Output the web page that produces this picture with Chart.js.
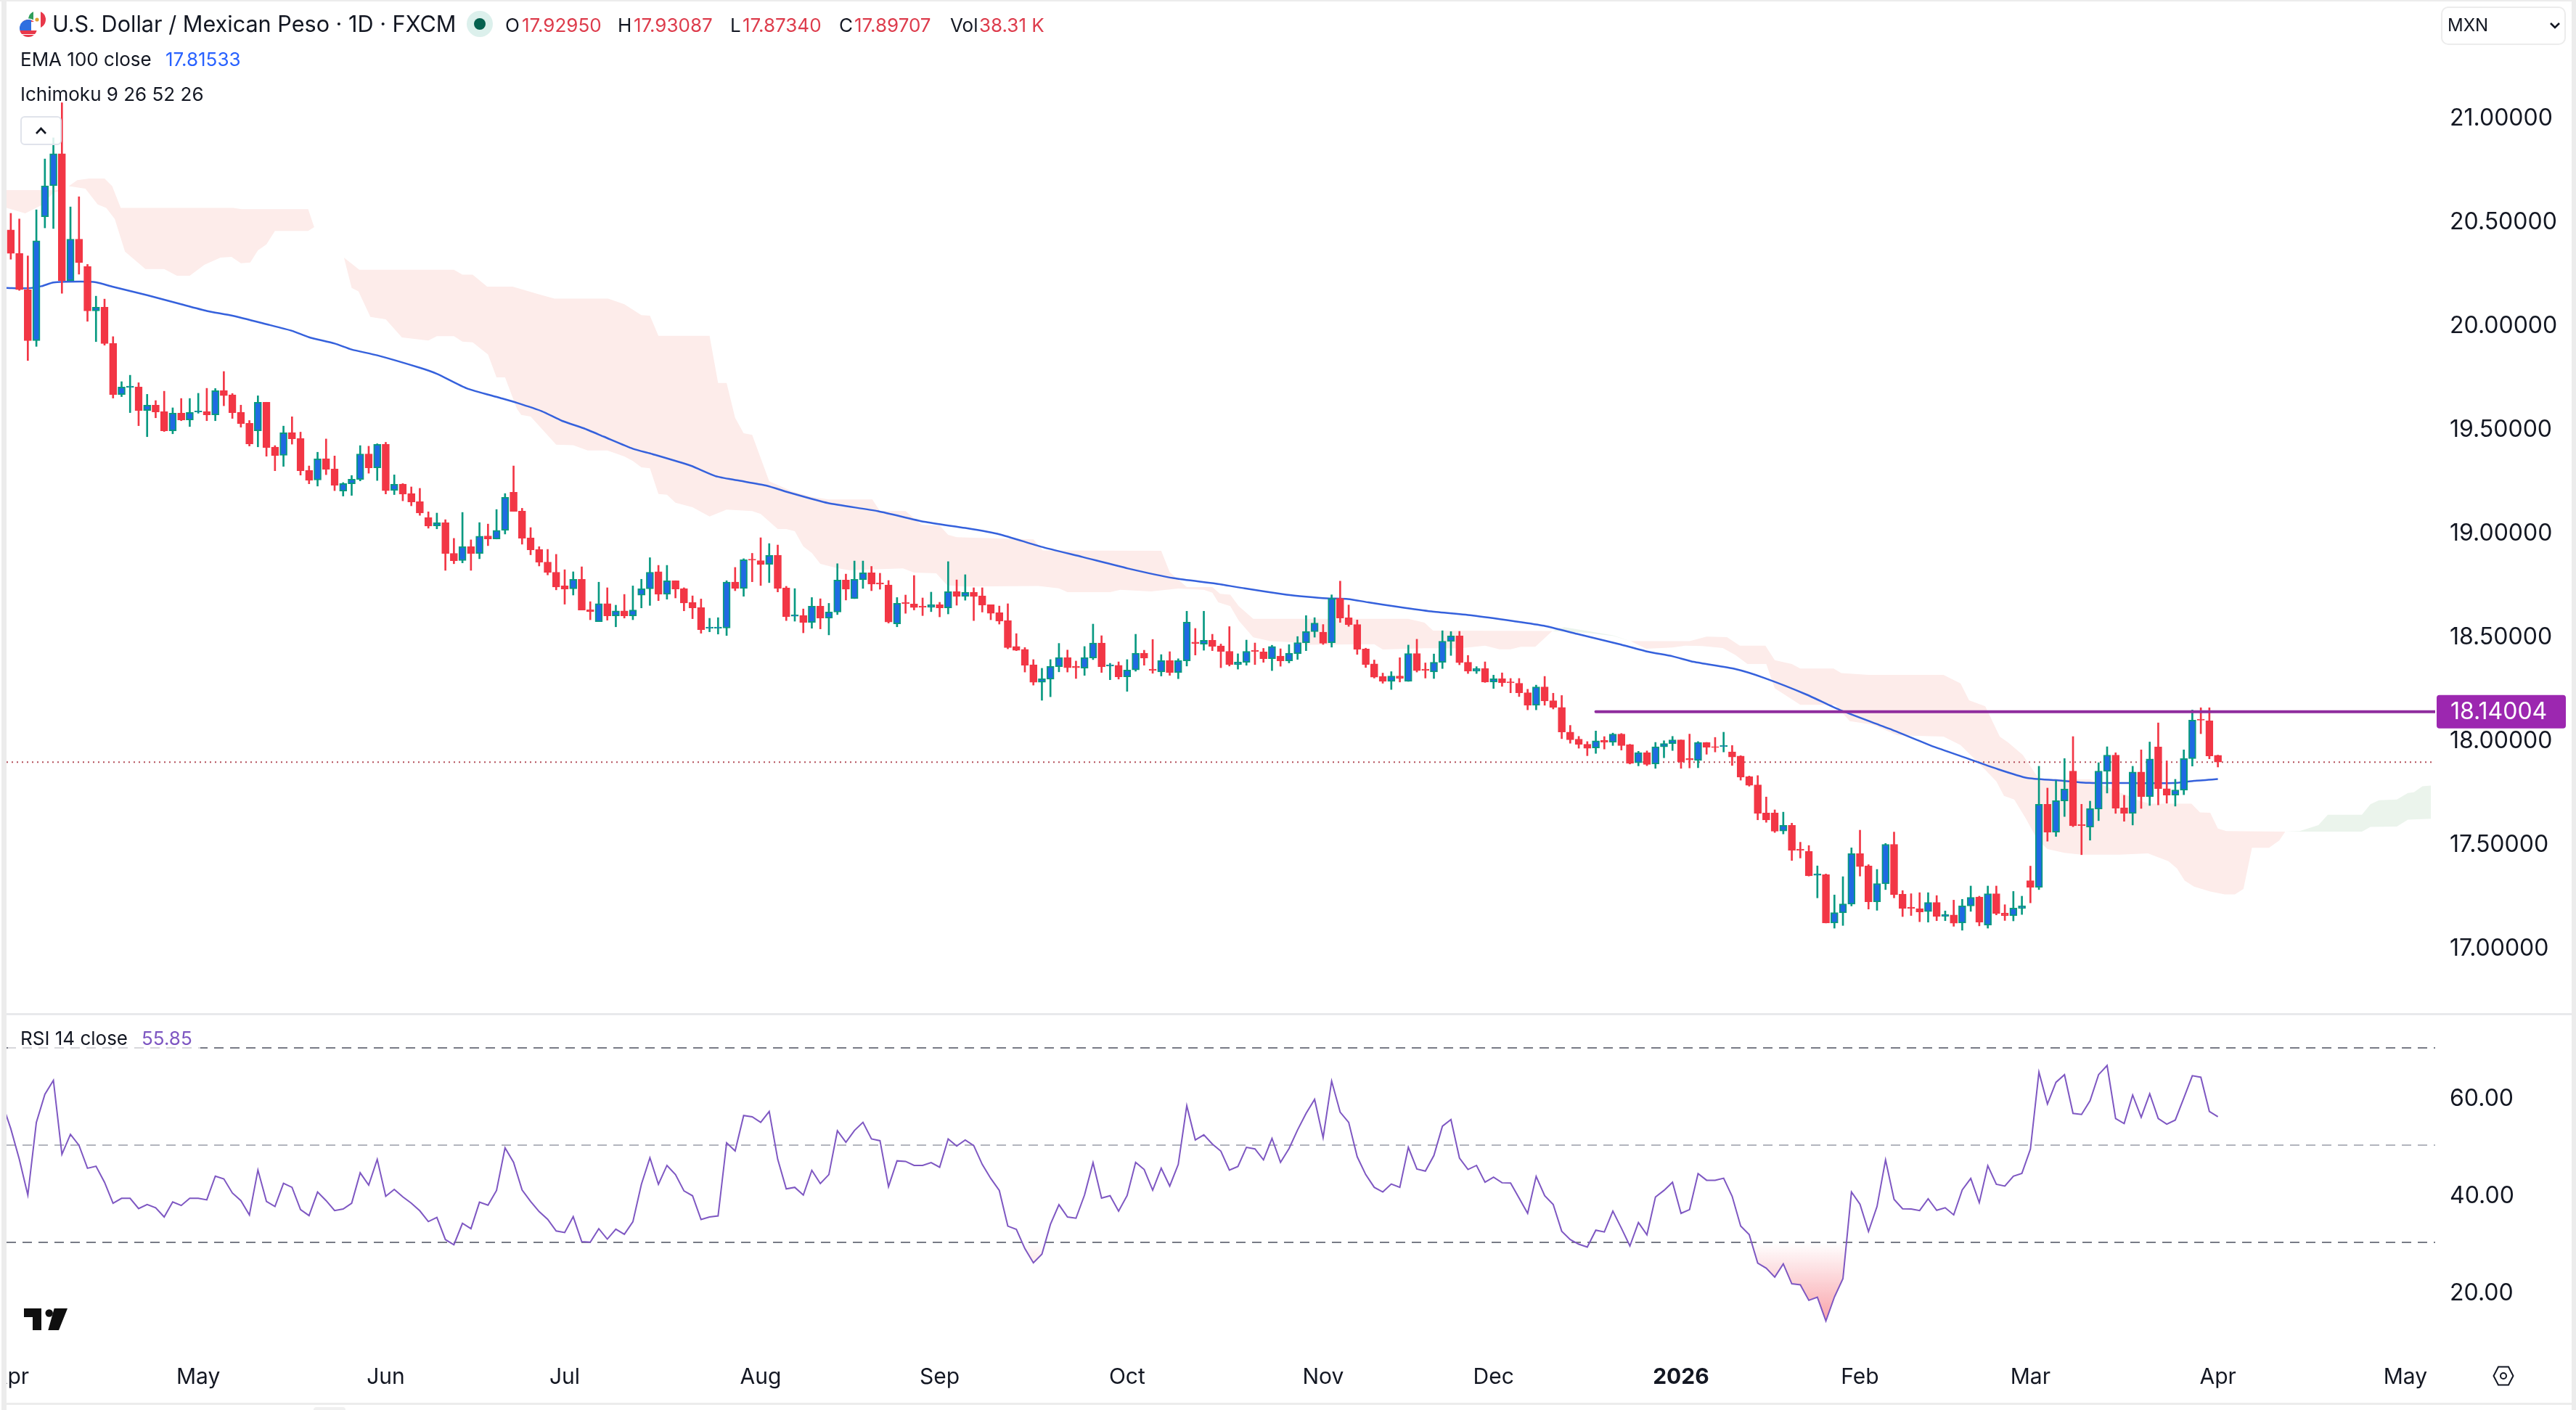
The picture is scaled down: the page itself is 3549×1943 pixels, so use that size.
<!DOCTYPE html>
<html>
<head>
<meta charset="utf-8">
<title>USD/MXN 1D</title>
<script src="https://cdn.jsdelivr.net/npm/chart.js@4"></script>
<style>
  html, body { margin: 0; padding: 0; background: #fff; overflow: hidden; }
  body { width: 3549px; height: 1943px; position: relative; font-family: Inter, sans-serif; color: #131722; }
  canvas { position: absolute; left: 9px; }
  #priceChart { top: 0; }
  #rsiChart { top: 1399px; }
  .strip { position: absolute; background: #ececec; }
  .txt { position: absolute; white-space: nowrap; line-height: 1; font-size: 26px; z-index: 5; }
  .abs { position: absolute; z-index: 5; }
  .red { color: #dd3c4c; }
</style>
</head>
<body>
<canvas id="priceChart" width="3534" height="1396"></canvas>
<canvas id="rsiChart" width="3534" height="534"></canvas>

<!-- window frame -->
<div class="strip" style="left:2px;top:0;width:7px;height:1943px"></div>
<div class="strip" style="left:0;top:0;width:3549px;height:2px"></div>
<div class="strip" style="left:3543px;top:0;width:6px;height:1943px"></div>
<div class="strip" style="left:9px;top:1396px;width:3534px;height:3px;background:#e8e9ec"></div>
<div class="strip" style="left:9px;top:1933px;width:3534px;height:3px"></div>
<div class="strip" style="left:432px;top:1939px;width:44px;height:4px;border-radius:6px 6px 0 0;background:#f0f0f0"></div>

<!-- header legend -->
<svg class="abs" style="left:26px;top:14px" width="40" height="40" viewBox="0 0 40 40">
  <defs>
    <clipPath id="mx"><circle cx="25" cy="13" r="12"/></clipPath>
    <clipPath id="us"><circle cx="13" cy="25" r="12"/></clipPath>
  </defs>
  <g clip-path="url(#mx)">
    <rect x="10" y="0" width="30" height="30" fill="#fff"/>
    <rect x="10" y="0" width="10" height="30" fill="#2e9e5b"/>
    <rect x="30" y="0" width="10" height="30" fill="#e8384a"/>
    <circle cx="25" cy="13" r="2.6" fill="#e0a030"/>
  </g>
  <circle cx="13" cy="25" r="13.5" fill="#fff"/>
  <g clip-path="url(#us)">
    <rect x="0" y="12" width="26" height="26" fill="#fff"/>
    <rect x="0" y="28" width="26" height="5" fill="#e8384a"/>
    <rect x="0" y="12" width="26" height="4" fill="#e8384a"/>
    <rect x="0" y="34" width="26" height="4" fill="#e8384a"/>
    <rect x="0" y="12" width="17" height="16" fill="#2f6fe0"/>
  </g>
</svg>
<span class="txt" style="left:72px;top:18px;font-size:30.6px">U.S. Dollar / Mexican Peso · 1D · FXCM</span>
<svg class="abs" style="left:643px;top:15px" width="36" height="36"><ellipse cx="18" cy="18" rx="18" ry="18" fill="#dcf0ec"/><circle cx="18" cy="18" r="8" fill="#06614f"/></svg>
<span class="txt" style="left:696px;top:22px">O</span><span class="txt red" style="left:719px;top:22px">17.92950</span>
<span class="txt" style="left:851px;top:22px">H</span><span class="txt red" style="left:873px;top:22px">17.93087</span>
<span class="txt" style="left:1006px;top:22px">L</span><span class="txt red" style="left:1023px;top:22px">17.87340</span>
<span class="txt" style="left:1156px;top:22px">C</span><span class="txt red" style="left:1177px;top:22px">17.89707</span>
<span class="txt" style="left:1309px;top:22px">Vol</span><span class="txt red" style="left:1349px;top:22px">38.31 K</span>
<span class="txt" style="left:28px;top:69px">EMA 100 close</span><span class="txt" style="left:228px;top:69px;color:#2962ff">17.81533</span>
<span class="txt" style="left:28px;top:117px">Ichimoku 9 26 52 26</span>
<div class="abs" style="left:28px;top:160px;width:53px;height:36px;border:2px solid #e0e3eb;border-radius:6px;background:rgba(255,255,255,.85)">
  <svg width="53" height="36"><path d="M20 22 L26.5 15 L33 22" fill="none" stroke="#131722" stroke-width="2.6"/></svg>
</div>

<!-- currency box -->
<div class="abs" style="left:3363px;top:9px;width:168px;height:49px;border:2px solid #ececec;border-radius:10px"></div>
<span class="txt" style="left:3372px;top:23px;font-size:24px">MXN</span>
<svg class="abs" style="left:3512px;top:29px" width="16" height="12"><path d="M2 3 L8 9 L14 3" fill="none" stroke="#131722" stroke-width="2.6"/></svg>

<!-- RSI legend -->
<div class="abs" style="left:11px;top:1416px;width:265px;height:32px;background:rgba(255,255,255,.7)"></div>
<span class="txt" style="left:28px;top:1418px;font-size:26px">RSI 14 close</span><span class="txt" style="left:195px;top:1418px;font-size:26px;color:#7e57c2">55.85</span>

<!-- logo and settings -->
<svg class="abs" style="left:33px;top:1803px" width="60" height="30" viewBox="0 0 60 30">
  <path d="M0 0H24V30H12V12H0Z M41.7 0H60L48 30H33.3Z" fill="#0f0f0f"/><circle cx="34.7" cy="6.5" r="5.2" fill="#0f0f0f"/>
</svg>
<svg class="abs" style="left:3434px;top:1881px" width="30" height="30" viewBox="0 0 30 30">
  <path d="M8 2.5H22L28.5 15L22 27.5H8L1.5 15Z" fill="none" stroke="#131722" stroke-width="2"/><circle cx="15" cy="15" r="4" fill="none" stroke="#131722" stroke-width="2"/>
</svg>

<script>
// daily candles, bar 0 is 1 Apr 2025, last bar is 1 Apr 2026
const opens = [
  20.461,20.348,20.173,19.928,20.525,20.674,20.828,20.217,20.417,20.285,
  20.071,20.089,19.914,19.668,19.702,19.704,19.591,19.617,19.586,19.493,
  19.578,19.546,19.584,19.586,19.570,19.687,19.667,19.583,19.529,19.493,
  19.631,19.415,19.375,19.485,19.456,19.302,19.256,19.359,19.309,19.203,
  19.238,19.259,19.382,19.315,19.428,19.207,19.237,19.191,19.152,19.075,
  19.035,19.050,18.903,18.868,18.935,18.902,18.987,18.972,19.014,19.197,
  19.106,18.977,18.921,18.861,18.812,18.746,18.732,18.778,18.631,18.574,
  18.661,18.602,18.626,18.602,18.701,18.732,18.814,18.706,18.771,18.733,
  18.667,18.641,18.542,18.542,18.543,18.765,18.734,18.875,18.868,18.850,
  18.894,18.737,18.600,18.604,18.570,18.648,18.591,18.620,18.774,18.685,
  18.776,18.809,18.760,18.751,18.563,18.666,18.659,18.648,18.643,18.655,
  18.640,18.718,18.695,18.716,18.698,18.655,18.617,18.579,18.454,18.440,
  18.366,18.282,18.297,18.357,18.401,18.359,18.350,18.399,18.471,18.360,
  18.363,18.308,18.341,18.422,18.345,18.332,18.386,18.329,18.385,18.475,
  18.465,18.484,18.457,18.431,18.367,18.378,18.436,18.428,18.395,18.408,
  18.385,18.420,18.472,18.526,18.523,18.472,18.686,18.592,18.560,18.442,
  18.370,18.310,18.286,18.312,18.286,18.420,18.345,18.332,18.378,18.479,
  18.505,18.378,18.335,18.348,18.283,18.299,18.284,18.277,18.231,18.171,
  18.259,18.193,18.161,18.042,18.008,17.983,17.965,18.002,17.993,18.032,
  17.981,17.894,17.943,17.888,17.971,17.986,18.004,17.914,17.905,17.992,
  17.972,17.972,17.946,17.926,17.827,17.787,17.652,17.652,17.565,17.592,
  17.478,17.467,17.352,17.355,17.122,17.171,17.213,17.456,17.397,17.224,
  17.311,17.501,17.261,17.198,17.191,17.177,17.221,17.154,17.161,17.122,
  17.204,17.247,17.111,17.263,17.169,17.157,17.192,17.326,17.294,17.694,
  17.560,17.710,17.854,17.597,17.584,17.671,17.853,17.931,17.676,17.650,
  17.849,17.731,17.970,17.769,17.738,17.762,17.914,18.104,18.096,17.9295
];
const closes = [
  20.348,20.173,19.928,20.409,20.674,20.828,20.217,20.417,20.304,20.071,
  20.089,19.914,19.667,19.704,19.709,19.591,19.617,19.584,19.493,19.578,
  19.546,19.582,19.589,19.570,19.687,19.663,19.581,19.528,19.430,19.631,
  19.413,19.374,19.484,19.455,19.301,19.255,19.358,19.308,19.231,19.239,
  19.260,19.382,19.315,19.428,19.205,19.236,19.188,19.151,19.097,19.034,
  19.050,18.902,18.867,18.935,18.902,18.986,18.972,19.014,19.173,19.105,
  18.976,18.920,18.860,18.811,18.741,18.731,18.778,18.630,18.622,18.661,
  18.602,18.626,18.602,18.630,18.732,18.812,18.706,18.771,18.731,18.664,
  18.640,18.535,18.548,18.548,18.765,18.734,18.872,18.870,18.849,18.893,
  18.734,18.598,18.606,18.570,18.648,18.591,18.620,18.774,18.730,18.778,
  18.809,18.755,18.755,18.572,18.662,18.661,18.642,18.643,18.655,18.640,
  18.718,18.695,18.716,18.695,18.653,18.614,18.576,18.449,18.436,18.364,
  18.282,18.299,18.358,18.401,18.352,18.352,18.401,18.471,18.356,18.366,
  18.308,18.341,18.422,18.398,18.339,18.386,18.329,18.386,18.571,18.469,
  18.484,18.455,18.430,18.367,18.379,18.431,18.430,18.395,18.454,18.385,
  18.422,18.473,18.526,18.567,18.470,18.686,18.591,18.559,18.441,18.367,
  18.306,18.286,18.312,18.300,18.420,18.338,18.339,18.378,18.480,18.505,
  18.376,18.335,18.348,18.283,18.299,18.279,18.279,18.231,18.171,18.259,
  18.192,18.160,18.042,18.005,17.982,17.964,18.000,17.993,18.032,17.977,
  17.891,17.943,17.886,17.971,17.987,18.004,17.897,17.908,17.992,17.969,
  17.967,17.977,17.922,17.825,17.785,17.650,17.618,17.564,17.592,17.472,
  17.472,17.349,17.358,17.122,17.172,17.214,17.456,17.394,17.224,17.312,
  17.501,17.258,17.192,17.192,17.175,17.221,17.153,17.162,17.121,17.204,
  17.245,17.126,17.263,17.167,17.157,17.194,17.204,17.294,17.694,17.560,
  17.711,17.767,17.590,17.591,17.673,17.854,17.931,17.675,17.650,17.849,
  17.731,17.912,17.769,17.738,17.763,17.914,18.099,18.099,17.927,17.89707
];
const highs = [
  20.541,20.514,20.336,20.558,20.803,20.905,21.074,20.572,20.621,20.295,
  20.142,20.128,19.947,19.730,19.761,19.725,19.669,19.639,19.684,19.604,
  19.649,19.649,19.674,19.698,19.697,19.779,19.673,19.617,19.543,19.662,
  19.631,19.422,19.516,19.561,19.487,19.324,19.390,19.454,19.372,19.244,
  19.278,19.422,19.419,19.431,19.438,19.281,19.239,19.223,19.216,19.103,
  19.097,19.065,18.975,19.100,18.968,19.051,19.044,19.114,19.191,19.324,
  19.120,19.027,18.935,18.922,18.898,18.824,18.814,18.838,18.670,18.764,
  18.737,18.653,18.705,18.746,18.778,18.882,18.845,18.845,18.771,18.737,
  18.698,18.683,18.590,18.593,18.771,18.835,18.877,18.903,18.978,18.950,
  18.943,18.744,18.733,18.635,18.690,18.684,18.662,18.853,18.803,18.866,
  18.866,18.840,18.807,18.772,18.690,18.702,18.796,18.688,18.716,18.667,
  18.863,18.775,18.800,18.737,18.737,18.655,18.649,18.660,18.516,18.449,
  18.391,18.349,18.391,18.469,18.437,18.384,18.454,18.562,18.506,18.373,
  18.380,18.391,18.513,18.436,18.488,18.415,18.429,18.395,18.624,18.541,
  18.624,18.513,18.466,18.550,18.419,18.485,18.471,18.445,18.460,18.443,
  18.463,18.502,18.603,18.593,18.560,18.703,18.769,18.654,18.582,18.446,
  18.389,18.326,18.333,18.400,18.461,18.489,18.375,18.418,18.530,18.526,
  18.527,18.411,18.357,18.380,18.316,18.327,18.300,18.300,18.248,18.268,
  18.310,18.229,18.218,18.074,18.021,17.996,18.047,18.020,18.037,18.035,
  17.983,17.949,17.951,17.992,18.000,18.021,18.004,18.032,17.996,17.992,
  18.016,18.041,17.977,17.928,17.830,17.832,17.729,17.667,17.656,17.603,
  17.511,17.495,17.397,17.358,17.257,17.345,17.484,17.569,17.403,17.380,
  17.505,17.560,17.278,17.263,17.268,17.268,17.254,17.180,17.232,17.236,
  17.300,17.251,17.300,17.300,17.210,17.274,17.251,17.396,17.877,17.772,
  17.808,17.914,18.020,17.694,17.709,17.894,17.971,17.942,17.737,17.877,
  17.956,17.994,18.086,17.903,17.814,17.956,18.148,18.159,18.159,17.93087
];
const lows = [
  20.320,20.170,19.832,19.900,20.471,20.468,20.156,20.217,20.248,20.021,
  19.923,19.906,19.651,19.658,19.581,19.518,19.465,19.556,19.490,19.479,
  19.542,19.514,19.578,19.542,19.542,19.614,19.553,19.511,19.420,19.416,
  19.371,19.301,19.322,19.429,19.280,19.238,19.227,19.282,19.205,19.179,
  19.182,19.252,19.289,19.254,19.189,19.186,19.156,19.132,19.086,19.024,
  19.021,18.821,18.853,18.857,18.821,18.877,18.940,18.972,18.996,19.105,
  18.947,18.896,18.842,18.799,18.727,18.658,18.702,18.630,18.583,18.574,
  18.581,18.549,18.591,18.583,18.640,18.652,18.675,18.682,18.688,18.626,
  18.588,18.518,18.525,18.514,18.507,18.723,18.696,18.766,18.748,18.762,
  18.717,18.579,18.576,18.520,18.542,18.539,18.510,18.608,18.678,18.685,
  18.734,18.723,18.730,18.567,18.549,18.614,18.630,18.603,18.622,18.597,
  18.611,18.653,18.677,18.579,18.620,18.583,18.562,18.443,18.434,18.331,
  18.268,18.195,18.212,18.332,18.331,18.300,18.315,18.391,18.329,18.294,
  18.297,18.238,18.335,18.364,18.325,18.312,18.315,18.299,18.360,18.413,
  18.436,18.434,18.352,18.360,18.345,18.364,18.367,18.378,18.338,18.359,
  18.375,18.392,18.434,18.499,18.464,18.451,18.570,18.551,18.416,18.353,
  18.302,18.277,18.247,18.283,18.286,18.331,18.302,18.300,18.348,18.411,
  18.366,18.324,18.324,18.281,18.252,18.262,18.231,18.213,18.149,18.149,
  18.171,18.153,18.010,17.988,17.964,17.928,17.939,17.960,17.977,17.955,
  17.888,17.879,17.880,17.867,17.918,17.953,17.867,17.869,17.870,17.935,
  17.946,17.946,17.881,17.810,17.781,17.619,17.607,17.558,17.551,17.423,
  17.435,17.348,17.243,17.122,17.097,17.110,17.204,17.348,17.189,17.183,
  17.283,17.243,17.153,17.158,17.128,17.126,17.133,17.133,17.106,17.087,
  17.178,17.108,17.097,17.161,17.134,17.132,17.163,17.219,17.283,17.516,
  17.539,17.635,17.586,17.451,17.521,17.615,17.748,17.650,17.612,17.594,
  17.674,17.688,17.691,17.699,17.685,17.740,17.878,18.034,17.913,17.8734
];

// EMA 100, read at these bars
const emaBars = [-0.5,2,3.6,5,8,10,12,16,20,23,26,30,33,35,38,40,43,48,50,53.5,57.4,59.4,62.3,64.7,67.2,69.6,73,75.3,79.8,82.7,85.2,88.6,91.5,95.9,101.8,107.2,112,116,120.9,125.8,131.1,136.5,141.4,144.8,149.7,152,154.4,156.9,159.3,162.8,166.7,171.6,176.4,179.9,183.8,188.7,192.1,195,197.5,202.4,205.8,210.7,214.6,220.5,225.3,228.7,233.2,236.6,240,243.9,248.8,253.7,256.2,259];
const emaValues = [20.182,20.180,20.190,20.208,20.212,20.209,20.187,20.147,20.103,20.071,20.048,20.007,19.975,19.944,19.914,19.885,19.857,19.797,19.768,19.698,19.652,19.628,19.588,19.541,19.506,19.465,19.407,19.381,19.325,19.275,19.255,19.230,19.194,19.145,19.106,19.055,19.025,18.995,18.935,18.885,18.830,18.783,18.757,18.734,18.704,18.694,18.686,18.683,18.667,18.645,18.623,18.603,18.576,18.554,18.515,18.466,18.429,18.407,18.380,18.345,18.302,18.223,18.149,18.057,17.977,17.928,17.863,17.821,17.810,17.797,17.796,17.796,17.807,17.81533];

// Ichimoku cloud edges, read at these bars
const redUpperBars = [-0.5,6,6.8,7.8,9.2,11,11.9,12.9,26.1,27.1,34.9,35.6,36.9,39.1,40.9,52,53,54.2,55.9,58.9,61.8,63.8,70.1,72,74,75,76,82,83,84,85,86,87,89,91.8,94.1,96,101.1,102,105,106.9,109,110,111,113,120,121.1,135,136,138,141,141.9,143.1,144.1,145.8,164,165.9,166.9,180.9,185,188,190.1,197,199,201.4,202.9,205.9,207,209,210,213.9,214.8,218,226.8,228.8,229.8,231.7,233.4,234.4,236.1,238,244,247,249.8,251,255.9,256.9,258.1,259,260,266.9];
const redUpperValues = [20.653,20.653,20.672,20.701,20.709,20.709,20.672,20.567,20.567,20.561,20.561,20.475,20.369,20.328,20.269,20.269,20.246,20.246,20.188,20.188,20.153,20.130,20.130,20.103,20.051,20.048,19.951,19.951,19.724,19.724,19.556,19.482,19.474,19.250,19.200,19.174,19.163,19.163,19.107,19.107,19.040,19.037,18.992,18.981,18.978,18.970,18.917,18.915,18.812,18.740,18.740,18.708,18.704,18.649,18.587,18.587,18.569,18.531,18.529,18.520,18.505,18.480,18.480,18.502,18.499,18.458,18.458,18.388,18.370,18.348,18.348,18.326,18.317,18.317,18.276,18.195,18.166,18.020,17.991,17.932,17.816,17.814,17.760,17.711,17.697,17.697,17.655,17.653,17.577,17.565,17.562];
const redLowerBars = [-0.5,1.7,3.6,5,6,6.8,8.75,10.2,11.2,12.2,13.4,15.8,18,19.5,21,22.7,24.6,25.9,27,28.1,29,30,31,34.9,35.6,36.9,39.1,40,40.8,42.2,44,45.9,49,50,52,53,54.2,56,57,58,59.4,59.9,61,64,66,67.7,70,72,73,74,75,76,77,78,80,82,84,87,88,90,91,92,93,94,95,97,98.4,104.7,106,108.6,109.9,112,117.5,120.6,123,124,129,130.2,133.8,137,140,141,141.7,143.1,144.1,145.8,147.8,150.7,152,160,161,166,170,173,174.7,176,177.2,178.9,180.9,185,188,190.1,191.9,195,196.5,198.5,200.9,202.4,203.8,206,207,210,214.1,215.8,218.5,221.4,226.8,228.8,230.8,233,233.9,235.1,236.4,237.8,239,241,243,247.4,250.8,253.2,254.2,255.1,256.2,258.1,259.8,261,262,263,265,266.2,266.9];
const redLowerValues = [20.567,20.541,20.580,20.640,20.653,20.672,20.660,20.584,20.567,20.514,20.357,20.273,20.273,20.240,20.240,20.293,20.328,20.331,20.301,20.304,20.363,20.392,20.456,20.456,20.475,20.369,20.328,20.182,20.165,20.042,20.031,19.943,19.928,19.949,19.949,19.923,19.920,19.861,19.751,19.751,19.599,19.570,19.562,19.427,19.424,19.399,19.399,19.370,19.348,19.317,19.313,19.189,19.185,19.147,19.125,19.080,19.114,19.107,19.093,19.020,19.020,19.010,18.936,18.905,18.852,18.831,18.822,18.830,18.810,18.807,18.748,18.743,18.745,18.746,18.734,18.716,18.716,18.727,18.719,18.733,18.727,18.713,18.667,18.649,18.579,18.498,18.480,18.474,18.462,18.465,18.440,18.446,18.445,18.458,18.441,18.441,18.453,18.453,18.529,18.520,18.505,18.480,18.443,18.449,18.458,18.456,18.447,18.413,18.370,18.370,18.253,18.173,18.173,18.094,18.078,18.026,18.020,17.979,17.898,17.804,17.734,17.717,17.629,17.525,17.478,17.460,17.451,17.451,17.457,17.420,17.385,17.326,17.297,17.274,17.260,17.260,17.286,17.484,17.484,17.519,17.562];
const greenUpperBars = [180.9,182.3,185,188,190.1];
const greenUpperValues = [18.529,18.547,18.529,18.508,18.480];
const greenLowerBars = [180.9,185,188,190.1];
const greenLowerValues = [18.529,18.520,18.505,18.480];
const futureUpperBars = [266.9,268.6,270.8,271.9,275.9,276.9,277.9,280,281.3,282,283,284];
const futureUpperValues = [17.562,17.565,17.594,17.643,17.643,17.694,17.713,17.717,17.748,17.752,17.781,17.784];
const futureLowerBars = [266.9,275.9,276.9,280,281.3,284];
const futureLowerValues = [17.562,17.562,17.585,17.587,17.620,17.624];

// RSI 14, first value belongs to the bar before the visible range
const rsiValues = [
  58.60,
  53.38,47.08,39.74,54.69,60.46,63.34,48.13,52.22,49.97,45.25,
  45.67,42.36,38.06,39.06,39.06,36.96,37.80,37.12,35.23,38.33,
  37.59,39.06,39.06,38.75,43.62,43.05,40.16,38.59,35.65,44.88,
  38.43,37.38,42.16,41.32,36.75,35.50,40.37,38.59,36.54,36.86,
  38.06,44.31,41.79,47.08,39.48,40.90,39.38,38.06,36.49,34.29,
  35.13,30.57,29.52,33.92,32.82,38.27,37.65,40.69,49.44,46.46,
  40.79,38.43,36.33,34.76,32.35,32.03,35.29,30.15,30.04,32.82,
  30.67,32.72,31.67,34.24,41.95,47.40,41.95,45.83,43.94,40.58,
  39.59,34.71,35.23,35.44,50.49,48.81,56.10,55.84,54.69,56.94,
  47.08,41.00,41.32,39.74,44.83,42.10,43.94,52.96,50.60,53.01,
  54.69,51.28,50.91,41.47,46.77,46.66,45.83,45.83,46.40,45.46,
  51.28,49.81,51.07,49.92,46.04,43.15,40.69,33.35,32.67,28.73,
  25.79,27.58,33.71,37.75,35.23,34.97,39.74,46.40,39.11,39.59,
  36.44,39.64,46.46,44.99,40.74,45.25,41.58,46.04,58.10,51.07,
  52.12,50.23,48.76,44.88,45.62,49.55,49.23,46.98,51.38,46.46,
  49.29,53.12,56.52,59.41,51.54,63.18,56.79,54.69,47.61,43.94,
  41.32,40.37,42.00,41.32,49.55,45.09,44.67,47.87,53.90,55.26,
  47.35,44.99,45.83,42.36,43.41,42.26,42.21,39.11,35.97,43.57,
  39.59,37.80,32.30,30.57,29.62,29.04,32.51,32.14,36.44,32.93,
  29.26,34.08,31.56,39.32,40.69,42.36,35.97,36.75,44.15,42.78,
  42.78,43.20,39.48,33.35,31.62,25.74,24.69,22.86,25.58,21.49,
  21.28,18.08,18.72,13.84,18.77,22.54,40.37,37.86,32.24,37.38,
  46.98,38.85,36.91,36.86,36.54,38.96,36.60,37.12,35.65,40.79,
  43.15,38.17,45.77,41.95,41.58,43.62,44.20,49.18,65.02,58.46,
  62.92,64.49,56.52,56.31,59.15,64.49,66.38,55.47,54.43,60.30,
  55.74,60.56,55.47,54.32,55.16,59.67,64.28,63.97,56.94,55.85
];

const monthBars = [0,22,44,65,88,109,131,154,174,196,217,237,259,281];
const monthLabels = ['Apr','May','Jun','Jul','Aug','Sep','Oct','Nov','Dec','2026','Feb','Mar','Apr','May'];
const yearBar = 196;

const priceTicks = [17,17.5,18,18.5,19,19.5,20,20.5,21];
const rsiTicks = [20,40,60];
const rsiBands = [70,50,30];

const lastClose = 17.89707;
const levelPrice = 18.14004;
const levelStartBar = 186;

const firstVisibleBar = -0.5;
const lastVisibleBar = 284.5;

const fontName = 'Inter, sans-serif';
const textColor = '#131722';
const upWick = '#089981';
const upBody = '#1f6ae3';
const downColor = '#f23645';
const redCloud = '#fdecea';
const greenCloud = '#ebf4ec';

function toPoints(bars, values) {
  return bars.map(function (b, i) { return { x: b, y: values[i] }; });
}

function edgeLine(data, order, fill, color) {
  return {
    type: 'line', data: data, order: order,
    borderWidth: 0, pointRadius: 0, tension: 0,
    fill: fill || false, backgroundColor: color || 'transparent'
  };
}

function flatLine(y, fromBar, toBar, color, width, dash, order) {
  return {
    type: 'line',
    data: [{ x: fromBar, y: y }, { x: toBar, y: y }],
    borderColor: color, borderWidth: width, borderDash: dash,
    pointRadius: 0, fill: false, order: order
  };
}

// no room kept for tick labels, the plot areas have to line up with the window
function noPadding(scale) {
  scale.paddingLeft = 0;
  scale.paddingRight = 0;
  scale.paddingTop = 0;
  scale.paddingBottom = 0;
}

const isUp = closes.map(function (c, i) { return c >= opens[i]; });

// price pane
const priceLabelBox = {
  id: 'priceLabelBox',
  afterDatasetsDraw: function (chart) {
    const ctx = chart.ctx;
    const y = chart.scales.y.getPixelForValue(levelPrice);
    ctx.save();
    ctx.fillStyle = '#9c27b0';
    ctx.beginPath();
    ctx.roundRect(3348, y - 23, 178, 46, 4);
    ctx.fill();
    ctx.fillStyle = '#fff';
    ctx.font = '32px ' + fontName;
    ctx.textAlign = 'left';
    ctx.textBaseline = 'middle';
    ctx.fillText(levelPrice.toFixed(5), 3367, y + 1);
    ctx.restore();
  }
};

new Chart(document.getElementById('priceChart'), {
  type: 'bar',
  data: {
    datasets: [
      edgeLine(toPoints(redUpperBars, redUpperValues), 20, '+1', redCloud),
      edgeLine(toPoints(redLowerBars, redLowerValues), 21),
      edgeLine(toPoints(greenUpperBars, greenUpperValues), 22, '+1', greenCloud),
      edgeLine(toPoints(greenLowerBars, greenLowerValues), 23),
      edgeLine(toPoints(futureUpperBars, futureUpperValues), 24, '+1', greenCloud),
      edgeLine(toPoints(futureLowerBars, futureLowerValues), 25),
      flatLine(lastClose, firstVisibleBar, lastVisibleBar, '#b4505c', 2, [2, 5], 10),
      {
        type: 'line', data: toPoints(emaBars, emaValues), order: 8,
        borderColor: '#3561dc', borderWidth: 2.5, pointRadius: 0, tension: 0.2, fill: false
      },
      {
        type: 'bar',
        data: highs.map(function (h, i) { return { x: i, y: [lows[i], h] }; }),
        backgroundColor: isUp.map(function (u) { return u ? upWick : downColor; }),
        barThickness: 2, grouped: false, order: 4
      },
      {
        type: 'bar',
        data: opens.map(function (o, i) { return { x: i, y: [o, closes[i]] }; }),
        backgroundColor: isUp.map(function (u) { return u ? upBody : downColor; }),
        borderColor: isUp.map(function (u) { return u ? upWick : downColor; }),
        borderWidth: 2, borderSkipped: false,
        barThickness: 10, grouped: false, order: 3
      },
      Object.assign(flatLine(levelPrice, levelStartBar, lastVisibleBar, '#8f2d9e', 4, [], 1), { borderCapStyle: 'round' })
    ]
  },
  options: {
    responsive: false,
    animation: false,
    layout: { autoPadding: false, padding: 0 },
    plugins: { legend: { display: false }, tooltip: { enabled: false } },
    scales: {
      x: {
        type: 'linear', min: firstVisibleBar, max: lastVisibleBar, offset: false, display: false,
        grid: { display: false }, afterFit: noPadding
      },
      y: {
        position: 'right', min: 16.688, max: 21.569,
        grid: { display: false, drawTicks: false }, border: { display: false },
        afterBuildTicks: function (scale) { scale.ticks = priceTicks.map(function (v) { return { value: v }; }); },
        afterFit: function (scale) { scale.width = 188; noPadding(scale); },
        ticks: {
          crossAlign: 'near', padding: 20, labelOffset: 1, color: textColor, font: { family: fontName, size: 32 },
          callback: function (v) { return Number(v).toFixed(5); }
        }
      }
    }
  },
  plugins: [priceLabelBox]
});

// RSI pane
const rsiGradient = {
  id: 'rsiGradient',
  afterLayout: function (chart) {
    const y = chart.scales.y;
    const g = chart.ctx.createLinearGradient(0, y.getPixelForValue(30), 0, y.getPixelForValue(14));
    g.addColorStop(0, 'rgba(242,54,69,0)');
    g.addColorStop(1, 'rgba(242,54,69,0.45)');
    chart.data.datasets[0].fill.below = g;
  }
};

new Chart(document.getElementById('rsiChart'), {
  type: 'line',
  data: {
    datasets: [
      {
        data: rsiValues.map(function (v, i) { return { x: i - 1, y: v }; }),
        borderColor: '#7e57c2', borderWidth: 2, pointRadius: 0, tension: 0, order: 1,
        fill: { target: { value: 30 }, above: 'transparent', below: 'rgba(242,54,69,0.2)' }
      },
      flatLine(rsiBands[0], firstVisibleBar, lastVisibleBar, '#787b86', 2, [13, 9], 2),
      flatLine(rsiBands[1], firstVisibleBar, lastVisibleBar, '#b2b5be', 2, [13, 9], 2),
      flatLine(rsiBands[2], firstVisibleBar, lastVisibleBar, '#787b86', 2, [13, 9], 2)
    ]
  },
  options: {
    responsive: false,
    animation: false,
    layout: { autoPadding: false, padding: 0 },
    plugins: { legend: { display: false }, tooltip: { enabled: false } },
    scales: {
      x: {
        type: 'linear', min: firstVisibleBar, max: lastVisibleBar, offset: false,
        grid: { display: false, drawTicks: false }, border: { display: false },
        afterBuildTicks: function (scale) { scale.ticks = monthBars.map(function (v) { return { value: v }; }); },
        afterFit: function (scale) { scale.height = 78; noPadding(scale); },
        ticks: {
          autoSkip: false, maxRotation: 0, padding: 25, color: textColor,
          font: function (c) {
            return { family: fontName, size: 30, weight: c.tick && c.tick.value === yearBar ? '700' : '400' };
          },
          callback: function (v, i) { return monthLabels[i]; }
        }
      },
      y: {
        position: 'right', min: 8.66, max: 76.72,
        grid: { display: false, drawTicks: false }, border: { display: false },
        afterBuildTicks: function (scale) { scale.ticks = rsiTicks.map(function (v) { return { value: v }; }); },
        afterFit: function (scale) { scale.width = 188; noPadding(scale); },
        ticks: {
          crossAlign: 'near', padding: 20, labelOffset: 3, color: textColor, font: { family: fontName, size: 32 },
          callback: function (v) { return Number(v).toFixed(2); }
        }
      }
    }
  },
  plugins: [rsiGradient]
});
</script>
</body>
</html>
